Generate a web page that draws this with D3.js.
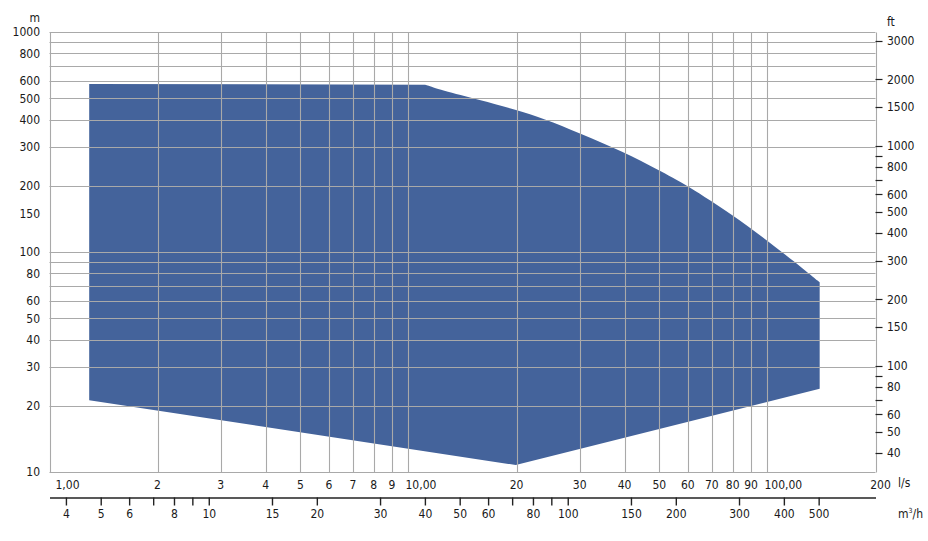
<!DOCTYPE html>
<html>
<head>
<meta charset="utf-8">
<script src="https://cdn.jsdelivr.net/npm/d3@7"></script>
<style>
  html, body { margin: 0; padding: 0; background: #fff; }
  svg text { font-family: "Liberation Sans Narrow", "DejaVu Sans Condensed", "Arial Narrow", "Roboto", sans-serif; font-size: 12px; fill: #1a1a1a; }
</style>
</head>
<body>
<svg id="chart" width="928" height="541"></svg>
<script>
// ---- Data ----
// Envelope of the operating range: flow (l/s) and head (m), traced clockwise
const envelopeFlow = [1.29, 11.13, 12.26, 15.84, 20.04, 23.72, 30.08, 39.7, 49.7, 59.6, 80.1, 99.6, 128.8, 139.8, 139.8, 19.9, 1.29];
const envelopeHead = [580, 576, 545, 491, 442, 405, 346, 286, 236, 202, 147, 113.4, 81.4, 72.8, 23.9, 10.76, 21.2];
const topEdgeCount = 14; // first points form the curved upper limit

// Flow axis (l/s) grid values and labels
const flowTicks = [1, 2, 3, 4, 5, 6, 7, 8, 9, 10, 20, 30, 40, 50, 60, 70, 80, 90, 100, 200];
const flowLabels = ["1,00", "2", "3", "4", "5", "6", "7", "8", "9", "10,00", "20", "30", "40", "50", "60", "70", "80", "90", "100,00", "200"];

// Flow axis (m³/h)
const m3hLabeled = [4, 5, 6, 8, 10, 15, 20, 30, 40, 50, 60, 80, 100, 150, 200, 300, 400, 500];
const m3hMinor = [7, 9, 70, 90];

// Head axis (m)
const headGrid = [1000, 900, 800, 700, 600, 500, 400, 300, 200, 100, 90, 80, 70, 60, 50, 40, 30, 20, 10];
const headLabels = [1000, 800, 600, 500, 400, 300, 200, 150, 100, 80, 60, 50, 40, 30, 20, 10];

// Head axis (ft)
const ftLabeled = [3000, 2000, 1500, 1000, 800, 600, 500, 400, 300, 200, 150, 100, 80, 60, 50, 40];
const ftMinor = [900, 700, 90, 70];

const LS_TO_M3H = 3.6;
const M_TO_FT = 3.28084;

// ---- Layout ----
const plotL = 49.5, plotR = 875.5, plotT = 32, plotB = 472;
const svg = d3.select("#chart");

const x = d3.scaleLog().domain([1, 200]).range([plotL, plotR]);
const y = d3.scaleLog().domain([10, 1000]).range([plotB, plotT]);
const xM = d3.scaleLog().domain([1 * LS_TO_M3H, 200 * LS_TO_M3H]).range([plotL, plotR]);
const yFt = d3.scaleLog().domain([10 * M_TO_FT, 1000 * M_TO_FT]).range([plotB, plotT]);

const px = v => Math.round(v) + 0.5;
const gridColor = "#a9a9a9";

// Envelope fill
const pts = envelopeFlow.map((f, i) => [f, envelopeHead[i]]);
const flatLine = d3.line().x(d => x(d[0])).y(d => y(d[1]));
const curveLine = d3.line().x(d => x(d[0])).y(d => y(d[1])).curve(d3.curveBasis);
const dPath = flatLine(pts.slice(0, 2)) +
  curveLine(pts.slice(1, topEdgeCount)).replace(/^M/, "L") +
  flatLine(pts.slice(topEdgeCount - 1)).replace(/^M/, "L") + "Z";
svg.append("path").attr("d", dPath).attr("fill", "#44639b");

// Grid
const grid = svg.append("g").attr("stroke", gridColor).attr("stroke-width", 1.1);
grid.selectAll("line.h").data(headGrid).join("line").attr("class", "h")
  .attr("x1", plotL).attr("x2", plotR)
  .attr("y1", d => px(y(d))).attr("y2", d => px(y(d)));
grid.selectAll("line.v").data(flowTicks).join("line").attr("class", "v")
  .attr("y1", px(y(1000))).attr("y2", px(y(10)))
  .attr("x1", d => px(x(d))).attr("x2", d => px(x(d)));

// Left head labels (m)
svg.append("g").selectAll("text").data(headLabels).join("text")
  .attr("x", 40).attr("y", d => y(d)).attr("dy", "0.36em")
  .attr("text-anchor", "end").text(d => d);
svg.append("text").attr("x", 40).attr("y", 22).attr("text-anchor", "end").text("m");

// Right ft axis
const ftG = svg.append("g");
ftG.selectAll("line").data(ftLabeled.concat(ftMinor)).join("line")
  .attr("x1", plotR).attr("x2", plotR + 7)
  .attr("y1", d => px(yFt(d))).attr("y2", d => px(yFt(d)))
  .attr("stroke", "#222").attr("stroke-width", 1.2);
ftG.selectAll("text").data(ftLabeled).join("text")
  .attr("x", 887).attr("y", d => yFt(d)).attr("dy", "0.36em")
  .text(d => d);
svg.append("text").attr("x", 887).attr("y", 26).text("ft");

// l/s labels
svg.append("g").selectAll("text").data(flowTicks).join("text")
  .attr("y", 489)
  .attr("x", (d, i) => {
    if (i === 0) return x(d) + 6;
    if (flowLabels[i].includes(",")) return x(d) - 3;
    if (i === flowTicks.length - 1) return x(d) + 5;
    return x(d);
  })
  .attr("text-anchor", (d, i) => (i === 0 || flowLabels[i].includes(",")) ? "start" : "middle")
  .text((d, i) => flowLabels[i]);
svg.append("text").attr("x", 898).attr("y", 487).text("l/s");

// m³/h axis
const axM = svg.append("g").attr("transform", "translate(0,497.5)")
  .call(d3.axisBottom(xM).tickValues(m3hLabeled.concat(m3hMinor)).tickSize(8).tickSizeOuter(0)
    .tickFormat(d => m3hLabeled.includes(d) ? d : ""));
axM.attr("font-family", null).attr("font-size", null);
axM.select(".domain").attr("stroke", "#222").attr("stroke-width", 1.4);
axM.selectAll(".tick line").attr("stroke", "#222").attr("stroke-width", 1.4);
axM.selectAll(".tick text").attr("y", 12).attr("dy", "0.71em").attr("fill", "#1a1a1a");
const unitM = svg.append("text").attr("x", 898).attr("y", 518);
unitM.append("tspan").text("m");
unitM.append("tspan").attr("dy", -5).style("font-size", "7px").text("3");
unitM.append("tspan").attr("dy", 5).text("/h");
</script>
</body>
</html>
